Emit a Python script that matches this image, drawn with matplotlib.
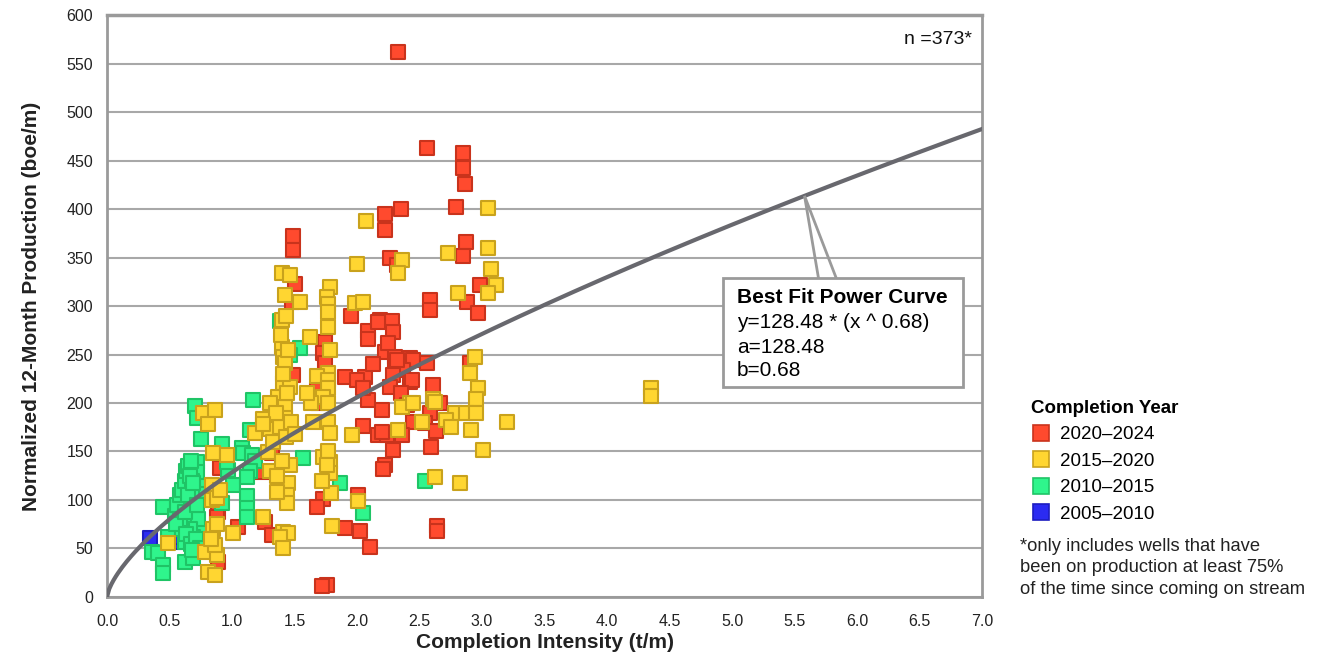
import numpy as np
import matplotlib
matplotlib.use("Agg")
import matplotlib.pyplot as plt
from matplotlib.lines import Line2D

plt.rcParams['font.family'] = ['Liberation Sans', 'DejaVu Sans']

# wells by completion year: (completion intensity t/m, 12-month production boe/m)
red_pts = [(2.33, 562), (2.56, 463), (2.85, 458), (2.85, 442), (2.86, 426), (2.79, 402), (2.35, 400),
           (2.22, 395), (2.22, 378), (1.49, 372), (1.49, 358), (2.87, 366), (2.85, 352), (2.26, 349),
           (2.32, 342), (1.50, 323), (2.98, 322), (2.88, 304), (2.97, 293), (2.58, 306), (2.58, 296),
           (1.48, 304), (1.95, 290), (2.18, 286), (2.28, 285), (2.29, 273), (2.09, 274), (2.09, 266),
           (1.74, 263), (1.73, 252), (2.22, 253), (2.30, 247), (2.42, 246), (2.45, 244), (2.56, 241),
           (2.30, 237), (2.37, 234), (2.29, 229), (2.42, 222), (2.26, 216), (2.06, 227), (1.90, 227),
           (2.00, 224), (1.49, 229), (2.44, 224), (2.61, 219), (2.90, 241), (2.66, 200), (2.58, 190),
           (2.20, 193), (2.09, 203), (2.45, 180), (2.54, 179), (2.63, 171), (2.17, 167), (2.24, 167),
           (2.36, 167), (2.29, 152), (2.59, 155), (2.22, 136), (2.21, 132), (1.68, 213), (1.74, 241),
           (2.05, 176), (2.01, 105), (1.73, 101), (1.68, 93), (1.90, 71), (2.02, 68), (2.10, 52),
           (2.64, 73), (2.64, 68), (1.76, 12), (1.72, 11), (1.26, 77), (1.32, 64), (1.24, 129),
           (1.32, 148), (0.89, 88), (0.90, 133), (0.89, 36), (1.05, 72), (0.88, 82), (2.13, 240),
           (2.25, 262), (2.17, 283), (2.35, 210), (2.05, 215), (2.40, 198), (2.32, 244), (2.20, 170),
           (1.69, 200)]

yellow_pts = [(2.07, 388), (3.05, 401), (2.00, 343), (2.73, 355), (3.05, 360), (3.07, 338), (3.11, 322),
              (2.81, 313), (3.05, 313), (2.36, 347), (2.33, 334), (1.40, 334), (1.46, 332), (1.54, 304),
              (1.78, 320), (1.76, 309), (1.77, 302), (1.77, 294), (1.98, 303), (2.05, 304), (1.42, 311),
              (1.40, 286), (1.77, 278), (1.62, 268), (1.78, 255), (1.40, 258), (1.41, 247), (1.42, 241),
              (1.77, 231), (1.68, 228), (1.77, 224), (1.41, 221), (1.77, 215), (1.46, 216), (1.73, 206),
              (1.37, 206), (1.77, 200), (1.42, 196), (1.30, 200), (1.42, 185), (1.25, 184), (1.77, 180),
              (1.65, 180), (1.46, 172), (1.30, 173), (1.18, 169), (1.78, 169), (1.96, 167), (2.94, 247),
              (2.90, 231), (2.97, 215), (2.95, 204), (2.61, 204), (2.62, 201), (2.42, 200), (2.36, 196),
              (3.20, 180), (2.78, 190), (2.87, 190), (2.95, 190), (2.71, 182), (2.75, 175), (2.91, 172),
              (2.33, 172), (3.01, 152), (2.62, 124), (2.82, 118), (1.73, 144), (1.78, 139), (1.78, 128),
              (1.79, 107), (2.01, 99), (1.80, 73), (1.45, 118), (1.44, 105), (1.44, 97), (1.36, 108),
              (1.25, 82), (1.41, 67), (1.45, 66), (1.38, 62), (1.41, 51), (1.29, 149), (1.46, 136),
              (1.30, 130), (1.36, 125), (1.40, 140), (1.33, 160), (1.38, 175), (1.43, 165), (1.47, 180),
              (1.35, 190), (1.44, 210), (1.41, 230), (1.45, 255), (1.39, 270), (1.43, 290), (0.77, 190),
              (0.86, 193), (0.81, 178), (0.85, 148), (0.96, 146), (0.84, 115), (0.84, 100), (0.81, 26),
              (0.86, 23), (0.78, 46), (0.88, 43), (0.86, 54), (0.49, 56), (1.01, 66),
              (0.88, 102), (0.85, 70), (0.83, 60), (0.88, 75), (0.90, 110), (4.35, 215), (4.35, 207),
              (1.77, 150), (1.76, 136), (1.72, 120), (1.63, 200), (1.60, 210), (1.25, 178), (1.50, 168),
              (2.52, 180), (2.45, 200)]

green_pts = [(1.17, 203), (0.70, 197), (0.72, 185), (0.75, 163), (0.92, 158), (1.08, 154), (0.72, 139),
             (0.72, 129), (0.76, 114), (0.68, 120), (0.97, 131), (1.01, 115), (1.12, 104), (1.12, 92),
             (1.12, 82), (0.61, 101), (0.65, 100), (0.70, 102), (0.77, 100), (0.92, 97), (0.45, 93),
             (0.54, 83), (0.64, 90), (0.68, 82), (0.64, 74), (0.76, 69), (0.69, 62), (0.49, 62),
             (0.62, 57), (0.36, 46), (0.41, 45), (0.45, 33), (0.45, 25), (0.62, 36), (0.69, 40),
             (1.14, 172), (1.54, 257), (1.46, 249), (1.38, 285), (1.37, 166), (1.57, 143), (1.86, 118),
             (2.54, 120), (2.05, 87), (1.09, 148), (1.16, 146), (1.18, 140), (1.14, 130), (0.96, 139),
             (0.73, 106), (1.12, 124), (0.56, 95), (0.58, 105), (0.60, 110), (0.62, 120), (0.63, 130),
             (0.65, 135), (0.66, 125), (0.67, 140), (0.68, 110), (0.70, 95), (0.71, 88), (0.73, 80),
             (0.66, 70), (0.60, 70), (0.58, 80), (0.55, 75), (0.63, 65), (0.67, 55), (0.71, 60),
             (0.74, 50), (0.68, 48), (0.65, 105), (0.62, 88), (0.69, 118), (0.72, 95)]

blue_pts = [(0.34, 61), (0.58, 57), (0.55, 62)]

series = [
    ("2020–2024", red_pts, '#ff4a2e', '#c9331c'),
    ("2015–2020", yellow_pts, '#ffd631', '#c9a21c'),
    ("2010–2015", green_pts, '#2ff58c', '#1fc466'),
    ("2005–2010", blue_pts, '#2b2bf2', '#1d1dc0'),
]
draw_order = ["2005–2010", "2020–2024", "2010–2015", "2015–2020"]

fit_a = 128.48
fit_b = 0.68
n_wells = 373

fig = plt.figure(figsize=(13.21, 6.54), dpi=100)
ax = fig.add_axes([0.081, 0.0872, 0.6624, 0.8898])

style = {s[0]: s for s in series}
for key in draw_order:
    label, pts, face, edge = style[key]
    xs = [p[0] for p in pts]
    ys = [p[1] for p in pts]
    ax.scatter(xs, ys, marker='s', s=100, facecolor=face, edgecolor=edge, linewidth=1.5, zorder=3)

xf = np.linspace(0, 7, 400)
ax.plot(xf, fit_a * xf ** fit_b, color='#68686e', linewidth=3, zorder=4)

ax.set_xlim(0, 7)
ax.set_ylim(0, 600)
ax.set_xticks(np.arange(0, 7.01, 0.5))
ax.set_xticklabels([f"{v:.1f}" for v in np.arange(0, 7.01, 0.5)])
ax.set_yticks(np.arange(0, 601, 50))
ax.tick_params(length=0, labelsize=11.5, colors='#222222')
ax.tick_params(axis='x', pad=12)
ax.tick_params(axis='y', pad=10)
ax.grid(axis='y', color='#a8a8a8', linewidth=1.5, zorder=0)
ax.set_axisbelow(True)
for sp in ax.spines.values():
    sp.set_color('#9a9a9a')
    sp.set_linewidth(2)
ax.spines['top'].set_linewidth(2.5)

ax.set_xlabel("Completion Intensity (t/m)", fontsize=15, fontweight='bold', color='#222222', labelpad=3)
ax.set_ylabel("Normalized 12-Month Production (boe/m)", fontsize=15, fontweight='bold',
              color='#222222', labelpad=18)

ax.text(0.988, 0.972, f"n ={n_wells}*", transform=ax.transAxes, ha='right', va='top',
        fontsize=14, color='#111111')

# callout for the fit
tip_x = 5.58
tip_y = fit_a * tip_x ** fit_b
ax.plot([5.69, tip_x, 5.83], [330, tip_y, 330], color='#9a9a9a', linewidth=2, zorder=5,
        solid_joinstyle='miter')
box = plt.Rectangle((4.93, 217), 1.92, 112, facecolor='white', edgecolor='#9a9a9a',
                    linewidth=2, zorder=6)
ax.add_patch(box)
ax.text(5.04, 309, "Best Fit Power Curve", fontsize=15, fontweight='bold', va='center', zorder=7)
ax.text(5.04, 283, f"y={fit_a} * (x ^ {fit_b})", fontsize=15, va='center', zorder=7)
ax.text(5.04, 257, f"a={fit_a}", fontsize=15, va='center', zorder=7)
ax.text(5.04, 233, f"b={fit_b}", fontsize=15, va='center', zorder=7)

# legend
legend_order = ["2020–2024", "2015–2020", "2010–2015", "2005–2010"]
handles = [Line2D([], [], linestyle='none', marker='s', markersize=12,
                  markerfacecolor=style[k][2], markeredgecolor=style[k][3], markeredgewidth=1.2)
           for k in legend_order]
leg = fig.legend(handles, legend_order, loc='upper left', bbox_to_anchor=(0.775, 0.4),
                 frameon=False, fontsize=13.5, title="Completion Year", alignment='left',
                 handletextpad=0.55, labelspacing=0.5, handlelength=1.0, borderaxespad=0)
leg.get_title().set_fontweight('bold')
leg.get_title().set_fontsize(13.5)

fig.text(0.772, 0.178, "*only includes wells that have\nbeen on production at least 75%\nof the time since coming on stream",
         fontsize=13.2, va='top', ha='left', color='#222222', linespacing=1.35)

fig.savefig("out.png", dpi=100)
